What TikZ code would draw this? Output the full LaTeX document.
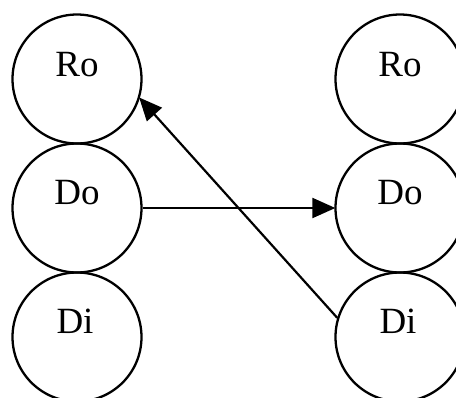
\documentclass[tikz,border=0pt]{standalone}
\usepackage{fontspec}
\setmainfont{Liberation Serif}
\usetikzlibrary{arrows.meta}
\begin{document}
\begin{tikzpicture}[x=1pt,y=-1pt,
  ball/.style={circle,draw,line width=2.3pt,minimum size=129pt,inner sep=0pt},
  lbl/.style={anchor=base,inner sep=0pt,font=\fontsize{37}{40}\selectfont},
  conn/.style={line width=2.2pt,-{Triangle[length=23pt,width=20pt]},shorten >=-1pt}]
\clip (0,0) rectangle (456,397);
\useasboundingbox (0,0) rectangle (456,397);
\node[ball] (Ro1) at (77,79) {};
\node[ball] (Do1) at (77,208) {};
\node[ball] (Di1) at (77,337) {};
\node[ball] (Ro2) at (400,79) {};
\node[ball] (Do2) at (400,208) {};
\node[ball] (Di2) at (400,337) {};
\node[lbl] (tRo1) at ([yshift=3pt]Ro1.center) {Ro};
\node[lbl] (tDo1) at ([yshift=4pt]Do1.center) {Do};
\node[lbl] (tDi1) at ([yshift=4pt,xshift=-2pt]Di1.center) {Di};
\node[lbl] (tRo2) at ([yshift=3pt]Ro2.center) {Ro};
\node[lbl] (tDo2) at ([yshift=4pt]Do2.center) {Do};
\node[lbl] (tDi2) at ([yshift=4pt,xshift=-2pt]Di2.center) {Di};
\draw[conn] (Do1) -- (Do2);
\draw[conn] (Di2.163) -- (Ro1.-17);
\end{tikzpicture}
\end{document}
